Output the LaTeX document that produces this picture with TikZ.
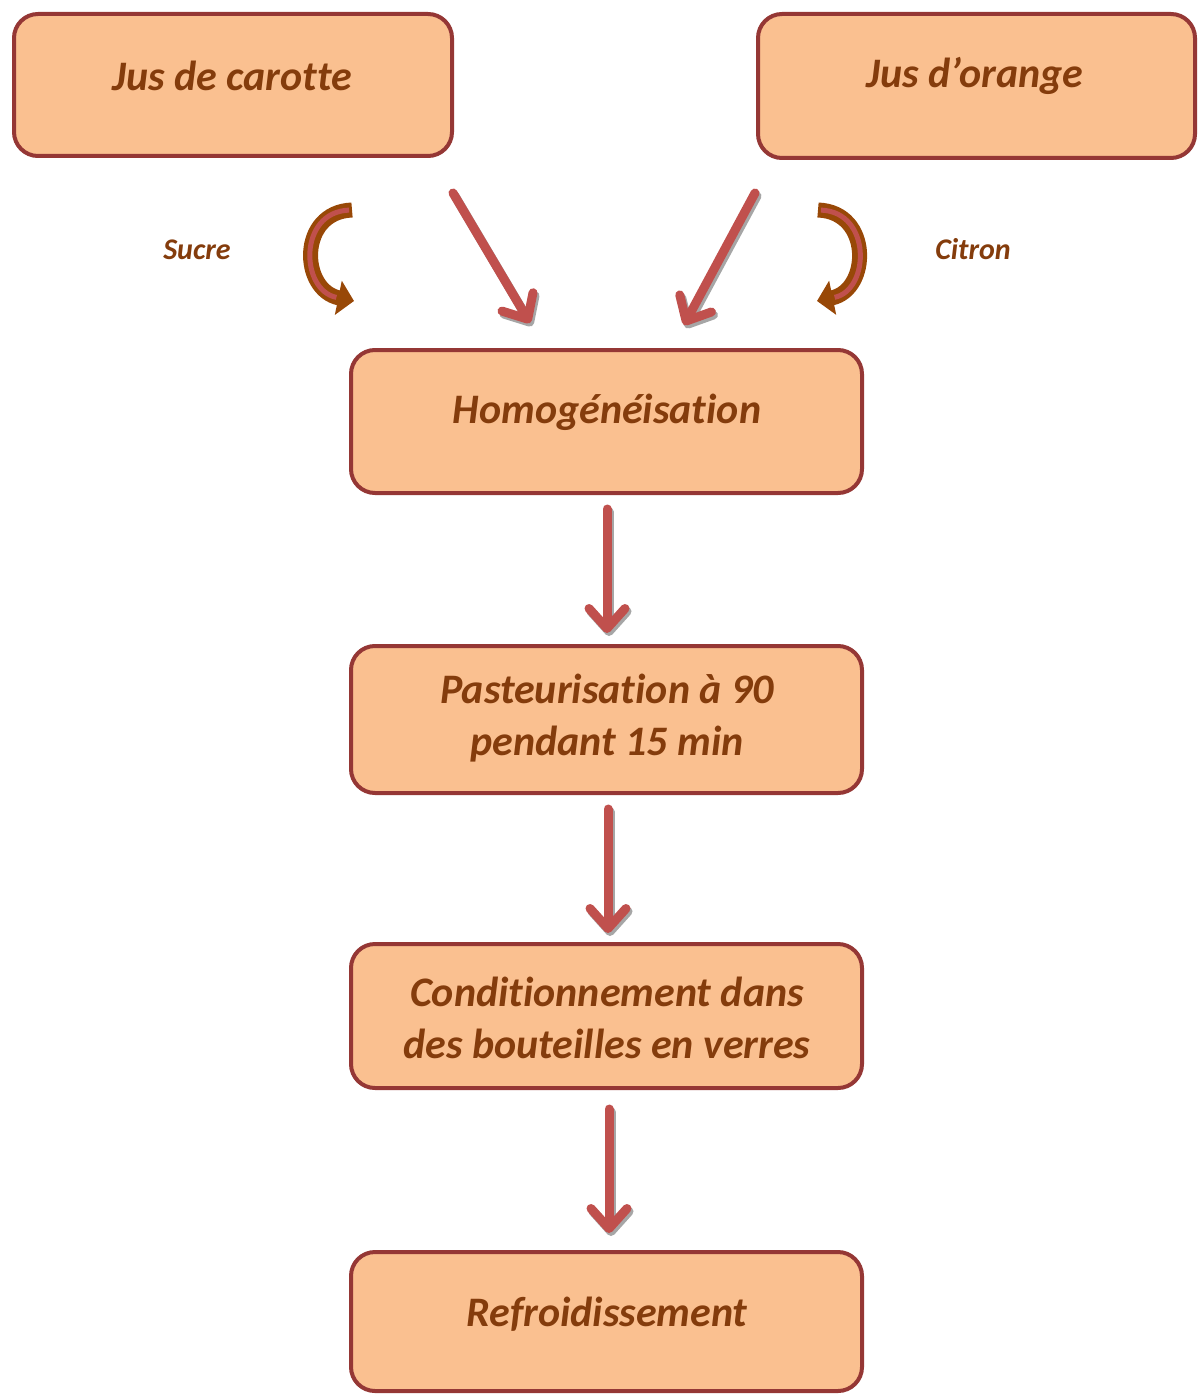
\documentclass[tikz,border=0pt]{standalone}
\usepackage{fontspec}
\setmainfont{Carlito}[Ligatures=NoCommon,Contextuals=NoAlternate]
\usetikzlibrary{arrows.meta}
\definecolor{boxline}{HTML}{953735}
\definecolor{boxfill}{HTML}{FAC090}
\definecolor{txtbrown}{HTML}{843C0C}
\definecolor{arrowred}{HTML}{C0504D}
\definecolor{shadowgray}{HTML}{A6A6A6}
\definecolor{curvebrown}{HTML}{984807}
\newcommand{\tI}{t\kern0pt i}
\tikzset{
  stepbox/.style={draw=boxline, fill=boxfill, line width=2pt, rounded corners=12pt, inner sep=0pt},
  boxtext/.style={text=txtbrown, font=\fontsize{21}{26}\selectfont\bfseries\itshape, align=center, inner sep=0pt},
  sidetext/.style={text=txtbrown, font=\fontsize{15}{18}\selectfont\bfseries\itshape, inner sep=0pt},
  flowbase/.style={line width=4.5pt, line cap=round,
    -{Straight Barb[length=10pt,width=18pt,round]}},
  flow/.style={flowbase, draw=arrowred},
  flowshadow/.style={flowbase, draw=shadowgray},
  curveout/.style={draw=curvebrown, line width=7.5pt, -{Triangle[length=8pt,width=17pt]}},
  curvein/.style={draw=arrowred, line width=2.5pt, shorten >=9pt, shorten <=1.5pt},
}
\begin{document}
\begin{tikzpicture}[x=0.5pt,y=-0.5pt]
\useasboundingbox (0,0) rectangle (1200,1396);
% boxes
\node[stepbox, minimum width=219pt, minimum height=71pt] (carotte) at (233,85) {};
\node[stepbox, minimum width=218.5pt, minimum height=72pt] (orange) at (976.5,86) {};
\node[stepbox, minimum width=255.5pt, minimum height=71.5pt] (homog) at (606.5,421.5) {};
\node[stepbox, minimum width=255.5pt, minimum height=73.5pt] (past) at (606.5,719.5) {};
\node[stepbox, minimum width=255.5pt, minimum height=72pt] (cond) at (606.5,1016) {};
\node[stepbox, minimum width=255.5pt, minimum height=69.5pt] (refr) at (606.5,1321.5) {};
% texts
\node[boxtext] (tcarotte) at (232,76) {Jus de carotte};
\node[boxtext] (torange) at (975,76) {Jus d’orange};
\node[boxtext] (thomog) at (607,412) {Homogénéisa\tI on};
\node[boxtext] (tpast) at (607,718) {Pasteurisa\tI on à 90\\pendant 15 min};
\node[boxtext] (tcond) at (607,1018) {Condi\tI onnement dans\\des bouteilles en verres};
\node[boxtext] (trefr) at (607,1314) {Refroidissement};
\node[sidetext] (sucre) at (197,250) {Sucre};
\node[sidetext] (citron) at (973,249) {Citron};
% arrow end points
\coordinate (a1s) at (453,193); \coordinate (a1e) at (530,323);
\coordinate (a2s) at (755,193); \coordinate (a2e) at (684,325);
\coordinate (a3s) at (607,509); \coordinate (a3e) at (607,633);
\coordinate (a4s) at (608,809); \coordinate (a4e) at (608,933);
\coordinate (a5s) at (609,1109); \coordinate (a5e) at (609,1233);
\begin{scope}[transform canvas={shift={(1pt,-1.5pt)}}]
\foreach \s/\e in {a1s/a1e,a2s/a2e,a3s/a3e,a4s/a4e,a5s/a5e}{
  \draw[flowshadow] (\s) -- (\e);
}
\end{scope}
\foreach \s/\e in {a1s/a1e,a2s/a2e,a3s/a3e,a4s/a4e,a5s/a5e}{
  \draw[flow] (\s) -- (\e);
}
% curved arrows
\coordinate (c1s) at (352,210); \coordinate (c1e) at (354,301);
\coordinate (c2s) at (818,210); \coordinate (c2e) at (817,301);
\draw[curveout] (c1s) .. controls (298,212) and (300,290) .. (c1e);
\draw[curvein] (c1s) .. controls (298,212) and (300,290) .. (c1e);
\draw[curveout] (c2s) .. controls (872,212) and (870,290) .. (c2e);
\draw[curvein] (c2s) .. controls (872,212) and (870,290) .. (c2e);
\end{tikzpicture}
\end{document}
